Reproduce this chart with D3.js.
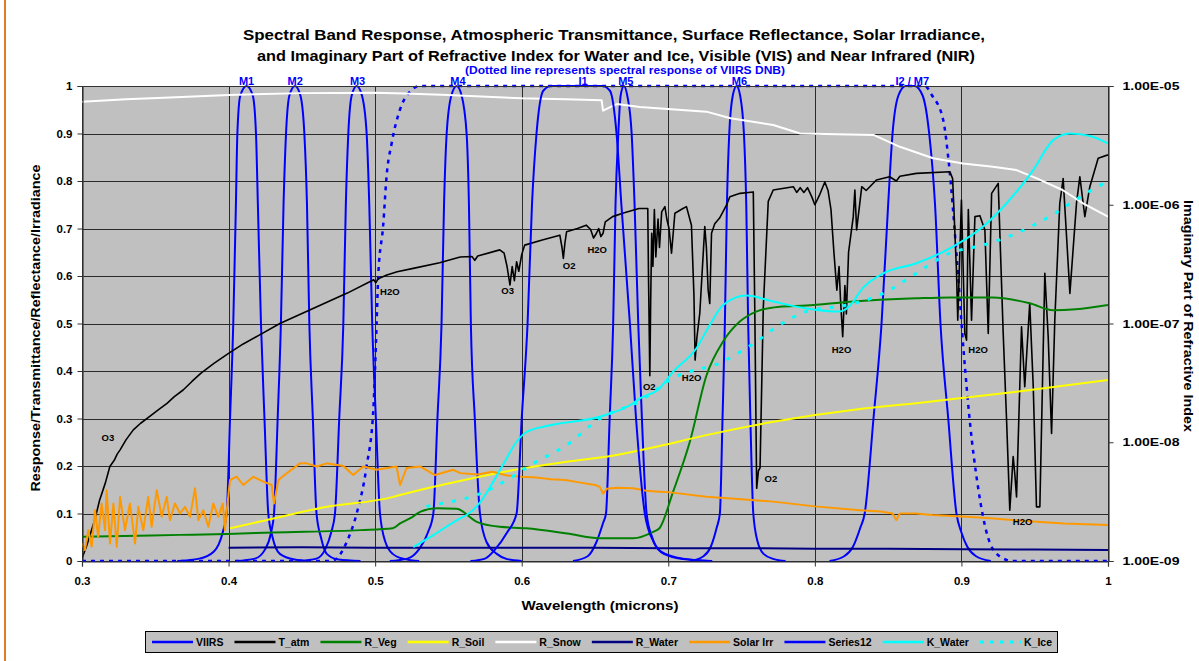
<!DOCTYPE html>
<html><head><meta charset="utf-8">
<script src="https://cdn.jsdelivr.net/npm/d3@7/dist/d3.min.js"></script>
<style>
body{margin:0;background:#fff}
svg{display:block}
text{font-family:"Liberation Sans",Arial,sans-serif;font-weight:bold}
</style>
</head><body>
<svg id="c" width="1199" height="661"></svg>
<script>
// ---------------- DATA ----------------
const titleLines = ["Spectral Band Response, Atmospheric Transmittance, Surface Reflectance, Solar Irradiance,",
                    "and Imaginary Part of Refractive Index for Water and Ice, Visible (VIS) and Near Infrared (NIR)"];
const subTitle = "(Dotted line represents spectral response of VIIRS DNB)";
const xTitle = "Wavelength (microns)";
const yTitle = "Response/Transmittance/Reflectance/Irradiance";
const y2Title = "Imaginary Part of Refractive Index";

const xTicks = [0.3,0.4,0.5,0.6,0.7,0.8,0.9,1.0];
const xTickLabels = ["0.3","0.4","0.5","0.6","0.7","0.8","0.9","1"];
const yTicks = [0,0.1,0.2,0.3,0.4,0.5,0.6,0.7,0.8,0.9,1];
const yTickLabels = ["0","0.1","0.2","0.3","0.4","0.5","0.6","0.7","0.8","0.9","1"];
const y2Ticks = [1e-9,1e-8,1e-7,1e-6,1e-5];
const y2TickLabels = ["1.00E-09","1.00E-08","1.00E-07","1.00E-06","1.00E-05"];

const bandNames = ["M1","M2","M3","M4","I1","M5","M6","I2 / M7"];
const bandLabelWl = [0.4123,0.4455,0.4880,0.5565,0.6418,0.6710,0.7485,0.8665];

const bandM1 = [[0.365,0],[0.380,0.005],[0.390,0.02],[0.396,0.06],[0.3987,0.1],[0.401,0.3],[0.4032,0.5],[0.405,0.75],[0.406,0.9],[0.408,0.98],[0.4123,1],[0.4165,0.98],[0.4187,0.9],[0.4200,0.75],[0.4221,0.5],[0.4245,0.3],[0.4271,0.1],[0.430,0.05],[0.435,0.015],[0.445,0.003],[0.455,0]];
const bandM2 = [[0.405,0],[0.418,0.005],[0.425,0.025],[0.429,0.06],[0.431,0.1],[0.4335,0.3],[0.4357,0.5],[0.4375,0.75],[0.4392,0.9],[0.4415,0.98],[0.4453,1],[0.449,0.98],[0.4517,0.9],[0.4535,0.75],[0.4551,0.5],[0.4575,0.3],[0.460,0.1],[0.463,0.05],[0.467,0.015],[0.475,0.003],[0.490,0]];
const bandM3 = [[0.448,0],[0.460,0.005],[0.466,0.025],[0.470,0.06],[0.4726,0.1],[0.4755,0.3],[0.4783,0.5],[0.480,0.75],[0.4817,0.9],[0.484,0.98],[0.4874,1],[0.491,0.98],[0.4942,0.9],[0.496,0.75],[0.498,0.5],[0.5005,0.3],[0.5033,0.1],[0.507,0.04],[0.512,0.015],[0.520,0.004],[0.530,0]];
const bandM4 = [[0.510,0],[0.522,0.005],[0.530,0.025],[0.536,0.06],[0.5397,0.1],[0.5425,0.3],[0.5453,0.5],[0.547,0.75],[0.5488,0.9],[0.552,0.98],[0.5556,1],[0.559,0.98],[0.5624,0.9],[0.564,0.75],[0.5653,0.5],[0.568,0.3],[0.5715,0.1],[0.576,0.04],[0.583,0.015],[0.590,0.004],[0.600,0]];
const bandI1 = [[0.565,0],[0.575,0.005],[0.582,0.025],[0.590,0.06],[0.5965,0.1],[0.600,0.3],[0.6040,0.5],[0.607,0.75],[0.6101,0.9],[0.6147,0.99],[0.620,1],[0.655,1],[0.6602,0.99],[0.6647,0.9],[0.668,0.75],[0.6738,0.5],[0.678,0.3],[0.684,0.1],[0.690,0.04],[0.697,0.015],[0.710,0.004],[0.728,0]];
const bandM5 = [[0.635,0],[0.645,0.01],[0.651,0.04],[0.6555,0.08],[0.6575,0.1],[0.660,0.3],[0.6624,0.5],[0.664,0.75],[0.6659,0.9],[0.6675,0.98],[0.6697,1],[0.672,0.98],[0.675,0.9],[0.677,0.75],[0.6795,0.5],[0.682,0.3],[0.6852,0.1],[0.689,0.05],[0.695,0.02],[0.710,0.005],[0.730,0]];
const bandM6 = [[0.715,0],[0.724,0.01],[0.729,0.03],[0.733,0.07],[0.7352,0.1],[0.737,0.3],[0.7386,0.5],[0.740,0.75],[0.7416,0.9],[0.744,0.98],[0.7466,1],[0.749,0.98],[0.7516,0.9],[0.7532,0.75],[0.7545,0.5],[0.756,0.3],[0.758,0.1],[0.761,0.04],[0.765,0.015],[0.772,0.004],[0.780,0]];
const bandI2M7 = [[0.810,0],[0.820,0.01],[0.826,0.03],[0.831,0.07],[0.834,0.1],[0.840,0.3],[0.8455,0.5],[0.850,0.75],[0.853,0.9],[0.857,0.98],[0.862,1],[0.868,1],[0.8735,0.98],[0.878,0.9],[0.882,0.75],[0.8857,0.5],[0.891,0.3],[0.8966,0.1],[0.900,0.06],[0.904,0.03],[0.910,0.01],[0.920,0]];
const bandDNB = [[0.300,0],[0.470,0],[0.4737,0.005],[0.4806,0.04],[0.4874,0.1],[0.4942,0.2],[0.4988,0.32],[0.5010,0.5],[0.5021,0.6],[0.5055,0.707],[0.5078,0.81],[0.5113,0.88],[0.5169,0.95],[0.5237,0.988],[0.5306,1],[0.875,1],[0.880,0.98],[0.8876,0.928],[0.8914,0.838],[0.8966,0.648],[0.9016,0.438],[0.9057,0.295],[0.9114,0.154],[0.918,0.051],[0.926,0.01],[0.935,0],[1.0,0]];

const tAtm = [[0.300,0.006],[0.303,0.03],[0.306,0.06],[0.309,0.09],[0.312,0.128],[0.316,0.165],[0.319,0.199],[0.322,0.212],[0.324,0.225],[0.326,0.234],[0.330,0.255],[0.335,0.276],[0.340,0.29],[0.346,0.304],[0.352,0.318],[0.358,0.332],[0.363,0.346],[0.369,0.36],[0.375,0.378],[0.381,0.395],[0.390,0.416],[0.400,0.437],[0.410,0.457],[0.420,0.474],[0.435,0.500],[0.458,0.532],[0.481,0.564],[0.499,0.592],[0.5005,0.586],[0.502,0.594],[0.508,0.602],[0.515,0.609],[0.526,0.616],[0.544,0.628],[0.558,0.640],[0.566,0.641],[0.568,0.633],[0.570,0.642],[0.585,0.655],[0.588,0.648],[0.590,0.620],[0.591,0.600],[0.592,0.581],[0.5935,0.620],[0.595,0.590],[0.5965,0.630],[0.598,0.610],[0.600,0.645],[0.602,0.665],[0.614,0.676],[0.626,0.686],[0.6275,0.660],[0.6284,0.637],[0.6295,0.670],[0.6306,0.693],[0.638,0.700],[0.644,0.707],[0.647,0.698],[0.649,0.680],[0.651,0.690],[0.6525,0.700],[0.654,0.683],[0.6555,0.690],[0.657,0.714],[0.662,0.725],[0.670,0.733],[0.680,0.742],[0.686,0.742],[0.6865,0.600],[0.6874,0.390],[0.688,0.550],[0.6887,0.690],[0.6895,0.620],[0.6905,0.740],[0.6915,0.640],[0.693,0.720],[0.694,0.660],[0.6955,0.735],[0.6977,0.746],[0.699,0.720],[0.7005,0.700],[0.7022,0.648],[0.7045,0.732],[0.710,0.742],[0.7124,0.746],[0.7158,0.707],[0.7175,0.560],[0.7183,0.423],[0.7195,0.470],[0.7215,0.522],[0.7249,0.704],[0.726,0.660],[0.7272,0.570],[0.7283,0.542],[0.7295,0.690],[0.7317,0.710],[0.735,0.722],[0.7397,0.749],[0.742,0.767],[0.749,0.774],[0.758,0.777],[0.759,0.533],[0.7603,0.153],[0.7615,0.190],[0.7626,0.196],[0.7648,0.532],[0.7682,0.757],[0.7716,0.781],[0.7853,0.788],[0.7876,0.776],[0.790,0.786],[0.7925,0.776],[0.795,0.786],[0.798,0.766],[0.800,0.750],[0.8034,0.772],[0.8068,0.798],[0.809,0.780],[0.811,0.740],[0.813,0.650],[0.815,0.570],[0.8165,0.620],[0.8175,0.550],[0.819,0.472],[0.8205,0.580],[0.8215,0.520],[0.823,0.650],[0.8262,0.725],[0.8273,0.781],[0.8285,0.697],[0.832,0.788],[0.835,0.780],[0.842,0.802],[0.851,0.809],[0.8556,0.800],[0.858,0.810],[0.8693,0.816],[0.8921,0.8196],[0.894,0.805],[0.8966,0.6126],[0.8975,0.507],[0.900,0.760],[0.9023,0.479],[0.9035,0.465],[0.9047,0.740],[0.9069,0.507],[0.9092,0.725],[0.9126,0.727],[0.916,0.697],[0.9183,0.479],[0.9206,0.774],[0.9251,0.795],[0.9285,0.479],[0.9308,0.297],[0.933,0.107],[0.9353,0.220],[0.9365,0.180],[0.9376,0.135],[0.941,0.493],[0.9432,0.367],[0.9466,0.5425],[0.949,0.367],[0.9512,0.114],[0.9535,0.114],[0.9569,0.6056],[0.9592,0.472],[0.9615,0.2687],[0.9637,0.507],[0.9671,0.753],[0.9694,0.805],[0.974,0.5635],[0.9785,0.753],[0.9808,0.809],[0.9842,0.725],[0.9876,0.788],[0.9933,0.848],[1.0,0.855]];

const rVeg = [[0.300,0.051],[0.367,0.055],[0.399,0.057],[0.430,0.060],[0.490,0.065],[0.512,0.069],[0.517,0.079],[0.525,0.092],[0.531,0.104],[0.542,0.111],[0.5556,0.110],[0.569,0.083],[0.585,0.072],[0.603,0.069],[0.631,0.058],[0.653,0.048],[0.676,0.048],[0.690,0.062],[0.694,0.069],[0.7033,0.146],[0.7147,0.251],[0.726,0.39],[0.7374,0.462],[0.7488,0.504],[0.760,0.525],[0.776,0.5355],[0.794,0.538],[0.824,0.546],[0.869,0.553],[0.892,0.555],[0.9215,0.555],[0.9466,0.5425],[0.9626,0.528],[0.978,0.530],[1.0,0.539]];
const rSoil = [[0.401,0.069],[0.4214,0.083],[0.467,0.114],[0.5124,0.135],[0.517,0.139],[0.560,0.170],[0.601,0.195],[0.6306,0.209],[0.6647,0.223],[0.694,0.242],[0.726,0.265],[0.7716,0.293],[0.8307,0.320],[0.869,0.332],[0.9376,0.3565],[1.0,0.381]];
const rSnow = [[0.300,0.967],[0.330,0.972],[0.360,0.976],[0.400,0.981],[0.450,0.985],[0.500,0.986],[0.520,0.984],[0.550,0.981],[0.580,0.977],[0.600,0.974],[0.630,0.972],[0.6545,0.970],[0.6555,0.948],[0.660,0.955],[0.665,0.962],[0.6806,0.956],[0.726,0.946],[0.7425,0.932],[0.7716,0.918],[0.790,0.900],[0.840,0.897],[0.858,0.872],[0.8807,0.848],[0.901,0.837],[0.9215,0.830],[0.9376,0.823],[0.951,0.806],[0.969,0.781],[0.983,0.753],[1.0,0.725]];
const rWater = [[0.400,0.028],[0.450,0.029],[0.500,0.028],[0.550,0.028],[0.600,0.028],[0.650,0.028],[0.700,0.027],[0.750,0.027],[0.800,0.026],[0.850,0.026],[0.900,0.025],[0.950,0.024],[1.0,0.023]];
const solarIrr = [[0.300,0.037],[0.302,0.023],[0.3043,0.065],[0.3066,0.030],[0.3089,0.107],[0.311,0.051],[0.3134,0.121],[0.3157,0.065],[0.3168,0.149],[0.3191,0.037],[0.3214,0.121],[0.3237,0.030],[0.326,0.135],[0.3293,0.065],[0.3327,0.121],[0.3362,0.037],[0.3384,0.114],[0.3418,0.065],[0.3452,0.135],[0.3475,0.072],[0.351,0.149],[0.3544,0.093],[0.3578,0.135],[0.360,0.086],[0.3634,0.121],[0.3669,0.100],[0.3703,0.114],[0.3737,0.093],[0.3771,0.153],[0.3794,0.086],[0.3828,0.107],[0.3862,0.072],[0.3896,0.121],[0.393,0.093],[0.396,0.121],[0.3975,0.065],[0.3987,0.104],[0.401,0.1705],[0.4055,0.1775],[0.410,0.160],[0.4169,0.1775],[0.4237,0.167],[0.4294,0.160],[0.431,0.121],[0.434,0.1705],[0.4397,0.1846],[0.4487,0.2056],[0.4533,0.2056],[0.4601,0.199],[0.467,0.2056],[0.4783,0.200],[0.485,0.181],[0.4919,0.199],[0.501,0.192],[0.5146,0.199],[0.517,0.160],[0.5215,0.196],[0.5306,0.199],[0.5408,0.181],[0.5533,0.192],[0.558,0.185],[0.570,0.182],[0.580,0.188],[0.590,0.180],[0.600,0.1775],[0.610,0.176],[0.620,0.172],[0.630,0.1705],[0.640,0.165],[0.650,0.160],[0.6533,0.156],[0.6555,0.142],[0.658,0.152],[0.665,0.154],[0.676,0.153],[0.685,0.148],[0.694,0.146],[0.700,0.145],[0.726,0.1354],[0.750,0.130],[0.7716,0.125],[0.800,0.115],[0.8307,0.107],[0.845,0.104],[0.853,0.100],[0.8556,0.0863],[0.858,0.100],[0.869,0.100],[0.880,0.097],[0.9035,0.093],[0.920,0.090],[0.949,0.083],[0.970,0.079],[1.0,0.076]];
const kWater = [[0.526,1.31e-9],[0.540,1.66e-9],[0.558,2.29e-9],[0.5624,2.44e-9],[0.572,3.16e-9],[0.5806,4.66e-9],[0.5897,7.31e-9],[0.5965,1.01e-8],[0.6033,1.22e-8],[0.6192,1.39e-8],[0.6533,1.64e-8],[0.676,2.13e-8],[0.6806,2.34e-8],[0.694,2.84e-8],[0.7033,3.93e-8],[0.7192,6.19e-8],[0.7283,9.73e-8],[0.7374,1.43e-7],[0.7533,1.72e-7],[0.7716,1.53e-7],[0.7944,1.34e-7],[0.817,1.26e-7],[0.826,1.51e-7],[0.8307,1.85e-7],[0.8466,2.64e-7],[0.8693,3.22e-7],[0.8921,4.29e-7],[0.9148,6.55e-7],[0.9308,1.03e-6],[0.949,1.96e-6],[0.9626,3.50e-6],[0.974,3.98e-6],[0.9876,3.79e-6],[1.0,3.28e-6]];
const kIce = [[0.535,2.88e-9],[0.5397,2.96e-9],[0.5692,3.60e-9],[0.590,4.81e-9],[0.6079,6.64e-9],[0.6306,9.46e-9],[0.6533,1.58e-8],[0.6806,2.23e-8],[0.7033,3.47e-8],[0.7374,4.79e-8],[0.760,7.03e-8],[0.776,9.73e-8],[0.794,1.26e-7],[0.8216,1.43e-7],[0.8466,1.79e-7],[0.869,2.64e-7],[0.892,3.91e-7],[0.9148,4.57e-7],[0.9376,5.75e-7],[0.960,7.94e-7],[0.9828,1.20e-6],[0.9967,1.51e-6]];

const gasNames = ["O3","H2O","O3","O2","H2O","O2","H2O","O2","H2O","H2O","H2O"];
const gasWl    = [0.3177,0.5100,0.5904,0.6324,0.6515,0.6870,0.7159,0.7700,0.8182,0.9114,0.9417];
const gasVal   = [0.261,0.568,0.569,0.622,0.655,0.367,0.386,0.174,0.446,0.446,0.083];

const legendNames = ["VIIRS","T_atm","R_Veg","R_Soil","R_Snow","R_Water","Solar Irr","Series12","K_Water","K_Ice"];

// ---------------- STYLES / LAYOUT ----------------
const styles = {
  "VIIRS":{c:"#0000FF",w:2},
  "T_atm":{c:"#000000",w:1.6},
  "R_Veg":{c:"#008000",w:2},
  "R_Soil":{c:"#FFFF00",w:2},
  "R_Snow":{c:"#FFFFFF",w:2},
  "R_Water":{c:"#000080",w:2},
  "Solar Irr":{c:"#FF9900",w:2},
  "Series12":{c:"#0000FF",w:2},
  "K_Water":{c:"#00FFFF",w:2},
  "K_Ice":{c:"#00FFFF",w:3,dash:"4,9"}
};

const W=1199,H=661;
const L=82,R=1108,T=86,B=561;
const svg=d3.select("#c");
const x=d3.scaleLinear().domain([0.3,1.0]).range([L,R]);
const y=d3.scaleLinear().domain([0,1]).range([B,T]);
const yR=d3.scaleLog().domain([1e-9,1e-5]).range([B,T]);

svg.append("rect").attr("width",W).attr("height",H).attr("fill","#fff");
svg.append("line").attr("x1",5).attr("x2",5).attr("y1",0).attr("y2",H).attr("stroke","#E07B28").attr("stroke-width",2);

// plot area
svg.append("rect").attr("x",L).attr("y",T).attr("width",R-L).attr("height",B-T).attr("fill","#C0C0C0");
const grid=svg.append("g").attr("shape-rendering","crispEdges").attr("stroke","#2a2a2a").attr("stroke-width",1);
grid.selectAll("line.h").data(yTicks).join("line").attr("class","h")
  .attr("x1",L).attr("x2",R).attr("y1",d=>Math.round(y(d))+0.5).attr("y2",d=>Math.round(y(d))+0.5);
grid.selectAll("line.v").data(xTicks).join("line").attr("class","v")
  .attr("y1",T).attr("y2",B).attr("x1",d=>Math.round(x(d))+0.5).attr("x2",d=>Math.round(x(d))+0.5);

// clip
svg.append("clipPath").attr("id","pc").append("rect").attr("x",L).attr("y",T-2).attr("width",R-L).attr("height",B-T+3);
const plot=svg.append("g").attr("clip-path","url(#pc)");

const lineSmooth=d3.line().x(d=>x(d[0])).y(d=>y(d[1])).curve(d3.curveMonotoneX);
const lineLin=d3.line().x(d=>x(d[0])).y(d=>y(d[1]));
const lineLog=d3.line().x(d=>x(d[0])).y(d=>yR(d[1])).curve(d3.curveMonotoneX);

function draw(data, gen, st, dash){
  plot.append("path").attr("d",gen(data)).attr("fill","none")
    .attr("stroke",st.c).attr("stroke-width",st.w)
    .attr("stroke-dasharray",dash||st.dash||null)
    .attr("stroke-linejoin","round");
}
// VIIRS bands
[bandM1,bandM2,bandM3,bandM4,bandM5,bandM6,bandI2M7].forEach(b=>draw(b,lineSmooth,styles["VIIRS"]));
draw(bandDNB,lineSmooth,{c:"#0000FF",w:2.5},"4,5");
draw(tAtm,lineLin,styles["T_atm"]);
draw(rVeg,lineSmooth,styles["R_Veg"]);
draw(rSoil,lineSmooth,styles["R_Soil"]);
draw(rSnow,lineLin,styles["R_Snow"]);
draw(rWater,lineLin,styles["R_Water"]);
draw(solarIrr,lineLin,styles["Solar Irr"]);
draw(bandI1,lineSmooth,styles["Series12"]);
draw(kWater,lineLog,styles["K_Water"]);
draw(kIce,lineLog,styles["K_Ice"]);

// gas labels
svg.append("g").selectAll("text").data(gasNames).join("text")
  .attr("x",(d,i)=>x(gasWl[i])).attr("y",(d,i)=>y(gasVal[i])+3.5)
  .attr("text-anchor","middle").attr("font-size",9.5).attr("fill","#000").text(d=>d);

// axes
const axL=svg.append("g").attr("transform",`translate(${L+0.5},0)`)
  .call(d3.axisLeft(y).tickValues(yTicks).tickFormat((d,i)=>yTickLabels[i]).tickSize(5).tickPadding(5));
const axB=svg.append("g").attr("transform",`translate(0,${B+0.5})`)
  .call(d3.axisBottom(x).tickValues(xTicks).tickFormat((d,i)=>xTickLabels[i]).tickSize(5).tickPadding(10));
const axR=svg.append("g").attr("transform",`translate(${R+0.5},0)`)
  .call(d3.axisRight(yR).tickValues(y2Ticks).tickFormat((d,i)=>y2TickLabels[i]).tickSize(5).tickPadding(9));
[axL,axB,axR].forEach(a=>{
  a.select(".domain").attr("stroke","#333").attr("stroke-width",1.2);
  a.selectAll(".tick line").attr("stroke","#333");
  a.selectAll(".tick text").attr("font-size",11.5).attr("fill","#000").attr("font-family",'"Liberation Sans",Arial,sans-serif').attr("font-weight","bold");
});
axR.selectAll(".tick text").attr("textLength",57).attr("lengthAdjust","spacingAndGlyphs");
svg.append("line").attr("x1",L).attr("x2",R).attr("y1",T+0.5).attr("y2",T+0.5).attr("stroke","#333");

// titles
function txt(str,xx,yy,size,len,color,rot){
  const t=svg.append("text").attr("font-size",size).attr("fill",color||"#000")
    .attr("text-anchor","middle").text(str);
  if(rot){t.attr("transform",`translate(${xx},${yy}) rotate(${rot})`);} else {t.attr("x",xx).attr("y",yy);}
  if(len) t.attr("textLength",len).attr("lengthAdjust","spacingAndGlyphs");
  return t;
}
txt(titleLines[0],614,40,15,742);
txt(titleLines[1],616,61,15,718);
txt(subTitle,625,74,10,320,"#0000FF");
svg.append("g").selectAll("text").data(bandNames).join("text")
  .attr("x",(d,i)=>x(bandLabelWl[i])).attr("y",85).attr("text-anchor","middle")
  .attr("font-size",11).attr("fill","#0000FF").text(d=>d);
txt(xTitle,600,610,12.5,157);
txt(yTitle,40,328,12.5,327,"#000",-90);
txt(y2Title,1184,316,12.5,232,"#000",90);

// legend
const lg=svg.append("g");
lg.append("rect").attr("x",145.5).attr("y",631.5).attr("width",912).attr("height",21).attr("fill","#C0C0C0").attr("stroke","#000");
const lx0=152, lx1=1052, segLen=41, gap1=3;
const items=lg.selectAll("g.it").data(legendNames).join("g").attr("class","it");
items.append("text").attr("font-size",10.5).attr("fill","#000").attr("y",646).text(d=>d);
const widths=[]; items.select("text").each(function(){widths.push(this.getComputedTextLength());});
const sumW=d3.sum(widths)+legendNames.length*(segLen+gap1);
const gap2=(lx1-lx0-sumW)/(legendNames.length-1);
let cx=lx0;
items.each(function(d,i){
  const g=d3.select(this); const st=styles[d];
  g.insert("line","text").attr("x1",cx).attr("x2",cx+segLen).attr("y1",642).attr("y2",642)
   .attr("stroke",st.c).attr("stroke-width",st.dash?3:2.5).attr("stroke-dasharray",st.dash?"4,6":null);
  g.select("text").attr("x",cx+segLen+gap1);
  cx+=segLen+gap1+widths[i]+gap2;
});
</script>
</body></html>
